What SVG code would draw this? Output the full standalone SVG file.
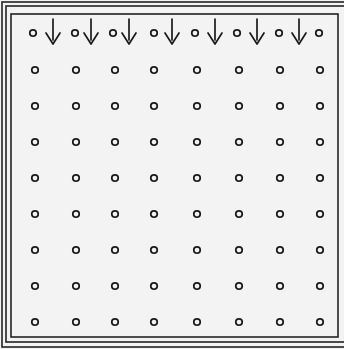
<svg xmlns="http://www.w3.org/2000/svg" width="344" height="349" viewBox="0 0 344 349">
<defs>
<style>
.frame{fill:none;stroke:#222;stroke-width:1.6}
.dot{fill:none;stroke:#1a1a1a;stroke-width:1.8}
.arr{fill:none;stroke:#1a1a1a;stroke-width:1.7;stroke-linecap:round;stroke-linejoin:round}
</style>
<circle id="d" r="3.2" class="dot"/>
<path id="a" class="arr" d="M0,-25 V-4 M-7,-11 L0,0 L7,-11"/>
</defs>
<rect width="344" height="349" fill="#f3f3f3"/>
<g id="frame">
<rect class="frame" x="2" y="2" width="348" height="345"/>
<rect class="frame" x="6" y="6" width="342" height="336"/>
<rect class="frame" x="11" y="14" width="327" height="323"/>
</g>
<g id="connectors">
<use href="#a" x="53" y="44"/>
<use href="#a" x="91" y="44"/>
<use href="#a" x="129" y="44"/>
<use href="#a" x="172" y="44"/>
<use href="#a" x="215" y="44"/>
<use href="#a" x="257" y="44"/>
<use href="#a" x="299" y="44"/>
</g>
<g id="row0"><use href="#d" x="33" y="33"/><use href="#d" x="75" y="33"/><use href="#d" x="113" y="33"/><use href="#d" x="154" y="33"/><use href="#d" x="195" y="33"/><use href="#d" x="237" y="33"/><use href="#d" x="279" y="33"/><use href="#d" x="319" y="33"/></g>
<g id="row1"><use href="#d" x="35" y="70"/><use href="#d" x="76" y="70"/><use href="#d" x="115" y="70"/><use href="#d" x="154" y="70"/><use href="#d" x="197" y="70"/><use href="#d" x="239" y="70"/><use href="#d" x="280" y="70"/><use href="#d" x="320" y="70"/></g>
<g id="row2"><use href="#d" x="35" y="106"/><use href="#d" x="76" y="106"/><use href="#d" x="115" y="106"/><use href="#d" x="154" y="106"/><use href="#d" x="197" y="106"/><use href="#d" x="239" y="106"/><use href="#d" x="280" y="106"/><use href="#d" x="320" y="106"/></g>
<g id="row3"><use href="#d" x="35" y="142"/><use href="#d" x="76" y="142"/><use href="#d" x="115" y="142"/><use href="#d" x="154" y="142"/><use href="#d" x="197" y="142"/><use href="#d" x="239" y="142"/><use href="#d" x="280" y="142"/><use href="#d" x="320" y="142"/></g>
<g id="row4"><use href="#d" x="35" y="178"/><use href="#d" x="76" y="178"/><use href="#d" x="115" y="178"/><use href="#d" x="154" y="178"/><use href="#d" x="197" y="178"/><use href="#d" x="239" y="178"/><use href="#d" x="280" y="178"/><use href="#d" x="320" y="178"/></g>
<g id="row5"><use href="#d" x="35" y="214"/><use href="#d" x="76" y="214"/><use href="#d" x="115" y="214"/><use href="#d" x="154" y="214"/><use href="#d" x="197" y="214"/><use href="#d" x="239" y="214"/><use href="#d" x="280" y="214"/><use href="#d" x="320" y="214"/></g>
<g id="row6"><use href="#d" x="35" y="250"/><use href="#d" x="76" y="250"/><use href="#d" x="115" y="250"/><use href="#d" x="154" y="250"/><use href="#d" x="197" y="250"/><use href="#d" x="239" y="250"/><use href="#d" x="280" y="250"/><use href="#d" x="320" y="250"/></g>
<g id="row7"><use href="#d" x="35" y="286"/><use href="#d" x="76" y="286"/><use href="#d" x="115" y="286"/><use href="#d" x="154" y="286"/><use href="#d" x="197" y="286"/><use href="#d" x="239" y="286"/><use href="#d" x="280" y="286"/><use href="#d" x="320" y="286"/></g>
<g id="row8"><use href="#d" x="35" y="322"/><use href="#d" x="76" y="322"/><use href="#d" x="115" y="322"/><use href="#d" x="154" y="322"/><use href="#d" x="197" y="322"/><use href="#d" x="239" y="322"/><use href="#d" x="280" y="322"/><use href="#d" x="320" y="322"/></g>
</svg>
